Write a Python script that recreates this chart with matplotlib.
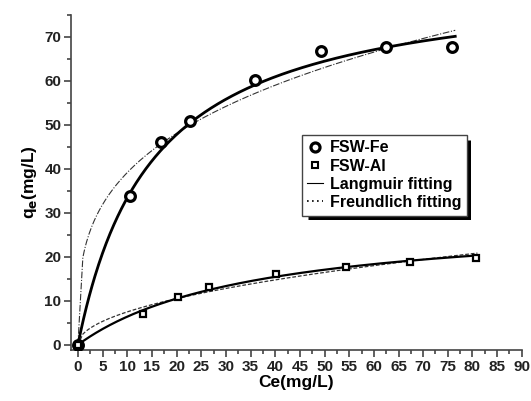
import numpy as np
import matplotlib
matplotlib.use("Agg")
import matplotlib.pyplot as plt
from matplotlib.lines import Line2D
from matplotlib.ticker import MultipleLocator

plt.rcParams['font.family'] = ['Liberation Sans', 'DejaVu Sans']
plt.rcParams['font.weight'] = 'bold'

# Experimental data
fe_ce = [0, 10.5, 16.8, 22.7, 35.9, 49.3, 62.5, 75.9]
fe_qe = [0, 33.9, 46.2, 50.9, 60.2, 66.7, 67.7, 67.8]
al_ce = [0, 13.2, 20.3, 26.6, 40.2, 54.3, 67.4, 80.8]
al_qe = [0, 7.0, 10.8, 13.2, 16.1, 17.6, 18.9, 19.7]

# Fitted model parameters
fe_langmuir = dict(qm=84.0, K=0.066, cmax=76.5)
fe_freundlich = dict(Kf=19.8, n_inv=0.296, cmax=76.5)
al_langmuir = dict(qm=29.3, K=0.0279, cmax=81.0)
al_freundlich = dict(Kf=2.42, n_inv=0.49, cmax=81.0)

x_ticks = list(range(0, 91, 5))
y_ticks = list(range(0, 71, 10))

def langmuir(c, qm, K):
    return qm * K * c / (1 + K * c)

def freundlich(c, Kf, n_inv):
    return Kf * np.power(c, n_inv)

fig = plt.figure(figsize=(5.31, 4.01), dpi=100)
ax = fig.add_axes([0.1337, 0.127, 0.849, 0.836])

c_fe = np.linspace(0, fe_langmuir['cmax'], 400)
c_al = np.linspace(0, al_langmuir['cmax'], 400)
c_fe_f = np.concatenate([[0], np.linspace(1, fe_freundlich['cmax'], 300)])
c_al_f = np.concatenate([[0], np.linspace(1, al_freundlich['cmax'], 300)])

ax.plot(c_fe_f, freundlich(c_fe_f, fe_freundlich['Kf'], fe_freundlich['n_inv']),
        color='#333333', lw=0.8, ls=(0, (6, 1.5, 1, 1.5)), zorder=2)
ax.plot(c_al_f, freundlich(c_al_f, al_freundlich['Kf'], al_freundlich['n_inv']),
        color='#333333', lw=0.9, ls=(0, (3, 1.5)), zorder=2)
ax.plot(c_fe, langmuir(c_fe, fe_langmuir['qm'], fe_langmuir['K']),
        color='black', lw=2.0, zorder=3)
ax.plot(c_al, langmuir(c_al, al_langmuir['qm'], al_langmuir['K']),
        color='black', lw=1.6, zorder=3)

ax.plot(fe_ce, fe_qe, ls='none', marker='o', ms=7, mfc='white', mec='black',
        mew=2.3, zorder=4)
ax.plot(al_ce, al_qe, ls='none', marker='s', ms=5, mfc='white', mec='black',
        mew=1.6, zorder=4)

ax.set_xlim(-1.4, 90)
ax.set_ylim(-1.2, 75)
ax.set_xticks(x_ticks)
ax.set_yticks(y_ticks)
ax.xaxis.set_minor_locator(MultipleLocator(2.5))
ax.yaxis.set_minor_locator(MultipleLocator(5))
for s in ['top', 'right']:
    ax.spines[s].set_visible(False)
for s in ['left', 'bottom']:
    ax.spines[s].set_color('#444444')
    ax.spines[s].set_linewidth(1.2)
ax.tick_params(which='major', direction='out', length=5, width=1.2, color='#444444',
               labelsize=11, pad=2)
ax.tick_params(which='minor', direction='out', length=3, width=1.2, color='#444444')
for lab in ax.get_xticklabels() + ax.get_yticklabels():
    lab.set_fontweight('bold')
    lab.set_color('#222222')

ax.set_xlabel('Ce(mg/L)', fontsize=12.5, fontweight='bold', labelpad=1)
ax.set_ylabel(r'q$_\mathbf{e}$(mg/L)', fontsize=12.5, fontweight='bold', labelpad=4)

handles = [
    Line2D([], [], ls='none', marker='o', ms=6.5, mfc='white', mec='black', mew=2.3),
    Line2D([], [], ls='none', marker='s', ms=4.5, mfc='white', mec='black', mew=1.5),
    Line2D([], [], color='black', lw=0.8, ls='-'),
    Line2D([], [], color='black', lw=1.2, ls=(0, (1, 2))),
]
labels = ['FSW-Fe', 'FSW-Al', 'Langmuir fitting', 'Freundlich fitting']
leg = ax.legend(handles, labels, loc='upper left', bbox_to_anchor=(0.512, 0.642),
                fontsize=11.5, frameon=True, fancybox=False, shadow=False,
                framealpha=1.0,
                handlelength=1.0, handletextpad=0.4, borderpad=0.35,
                labelspacing=0.2, borderaxespad=0)
leg.set_zorder(10)
frame = leg.get_frame()
frame.set_facecolor('white')
frame.set_edgecolor('#444444')
frame.set_linewidth(1.0)
for t in leg.get_texts():
    t.set_fontweight('bold')

# Legend drop shadow drawn as a thick L-shaped line just outside the frame
ax.plot([0.8814, 0.8814, 0.5255], [0.627, 0.3955, 0.3955], transform=ax.transAxes,
        color='black', lw=3.6, solid_joinstyle='miter', solid_capstyle='butt',
        clip_on=False, zorder=9)

fig.savefig('out.png', dpi=100)
